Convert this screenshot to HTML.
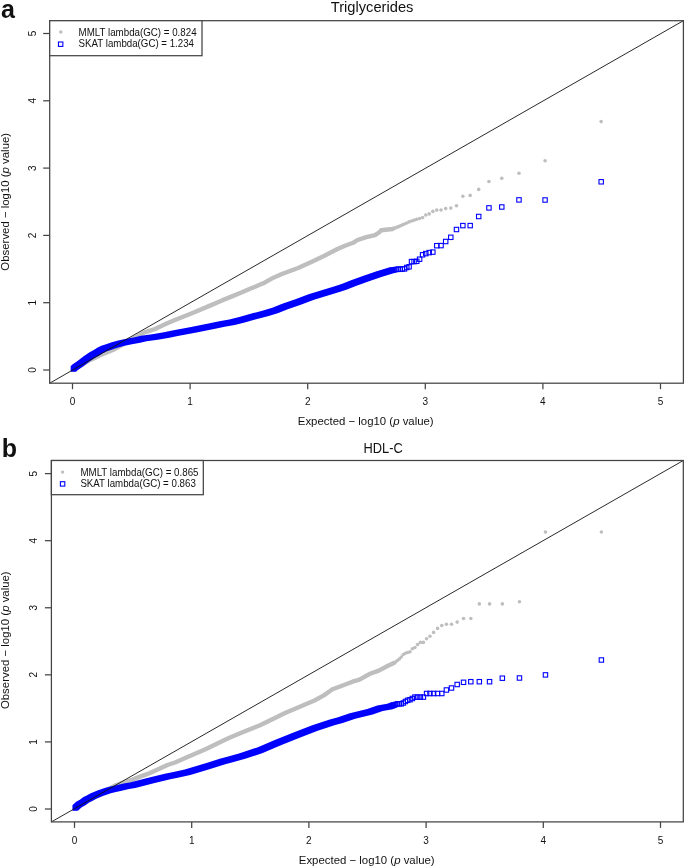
<!DOCTYPE html>
<html><head><meta charset="utf-8"><style>
html,body{margin:0;padding:0;background:#fff;}
svg{display:block;}
svg{will-change:transform;}
text{font-family:"Liberation Sans", sans-serif;fill:#111;}
</style></head><body>
<svg width="685" height="868" viewBox="0 0 685 868">
<polyline points="73,369.8 89.4,360.3 95.2,357.7 100,355.3 107.3,352.3 114.6,349.2 129,341 143.8,332.7 150,330.6 155,329 166.7,323.6 175,320 192.5,313 210,305.6 222,300.4 232,296.4 242,292.3 250,288.7 255,286.7 265,282.4 273.4,277.7 282.5,273.8 290,271 298.1,268 311.3,262 324.4,255.8 337.5,249 345,245.7 353.1,242.8 357.5,240 366.3,237.1 375,235.1 379,232.5 381.2,230.3 392.5,229 392.92,228.83" fill="none" stroke="#bebebe" stroke-width="4.4" stroke-linejoin="round" stroke-linecap="round"/>
<g fill="#bebebe"><circle cx="601.18" cy="121.6" r="1.8"/><circle cx="545.07" cy="160.8" r="1.8"/><circle cx="518.98" cy="173.3" r="1.8"/><circle cx="501.79" cy="178.3" r="1.8"/><circle cx="488.96" cy="181.5" r="1.8"/><circle cx="478.71" cy="189.4" r="1.8"/><circle cx="470.18" cy="195.4" r="1.8"/><circle cx="462.87" cy="196.3" r="1.8"/><circle cx="456.48" cy="205.8" r="1.8"/><circle cx="450.79" cy="208.1" r="1.8"/><circle cx="445.68" cy="208.6" r="1.8"/><circle cx="441.04" cy="210" r="1.8"/><circle cx="436.78" cy="210.1" r="1.8"/><circle cx="432.85" cy="211.4" r="1.8"/><circle cx="429.2" cy="213.9" r="1.8"/><circle cx="425.79" cy="215" r="1.8"/><circle cx="422.6" cy="217.6" r="1.8"/><circle cx="419.59" cy="218.47" r="1.8"/><circle cx="416.76" cy="219.28" r="1.8"/><circle cx="414.07" cy="220.14" r="1.8"/><circle cx="411.51" cy="221" r="1.8"/><circle cx="409.08" cy="221.91" r="1.8"/><circle cx="406.76" cy="222.96" r="1.8"/><circle cx="404.54" cy="223.96" r="1.8"/><circle cx="402.41" cy="224.92" r="1.8"/><circle cx="400.37" cy="225.84" r="1.8"/><circle cx="398.4" cy="226.64" r="1.8"/><circle cx="396.51" cy="227.4" r="1.8"/><circle cx="394.69" cy="228.13" r="1.8"/><circle cx="392.92" cy="228.83" r="1.8"/></g>
<polygon points="70.65,371.75 70.65,366.25 72.05,364.65 74.95,362.85 77.85,360.65 80.75,358.45 83.65,356.15 86.65,354.25 89.55,352.35 92.45,350.65 95.35,349.05 97.25,347.75 101.25,345.85 106.05,344.25 111.85,342.35 119.15,340.25 126.45,338.75 134.75,337.25 141.05,335.85 152.25,334.25 163.95,332.25 172.25,330.45 189.75,327.25 207.25,323.85 219.25,321.15 229.25,319.45 239.25,317.05 250.65,313.75 262.25,310.75 272.25,307.75 282.25,303.75 295.35,299.25 308.55,294.35 321.65,290.25 334.75,286.25 342.25,283.75 350.35,280.55 363.55,275.75 376.65,271.15 389.75,267.35 390.17,267.28 395.67,267.28 395.67,272.78 395.25,272.85 382.15,276.65 369.05,281.25 355.85,286.05 347.75,289.25 340.25,291.75 327.15,295.75 314.05,299.85 300.85,304.75 287.75,309.25 277.75,313.25 267.75,316.25 256.15,319.25 244.75,322.55 234.75,324.95 224.75,326.65 212.75,329.35 195.25,332.75 177.75,335.95 169.45,337.75 157.75,339.75 146.55,341.35 140.25,342.75 131.95,344.25 124.65,345.75 117.35,347.85 111.55,349.75 106.75,351.35 102.75,353.25 100.85,354.55 97.95,356.15 95.05,357.85 92.15,359.75 89.15,361.65 86.25,363.95 83.35,366.15 80.45,368.35 77.55,370.15 76.15,371.75" fill="#0000ff"/>
<g fill="none" stroke="#0000ff" stroke-width="1.1"><rect x="598.98" y="179.6" width="4.4" height="4.4"/><rect x="542.87" y="197.8" width="4.4" height="4.4"/><rect x="516.78" y="197.7" width="4.4" height="4.4"/><rect x="499.59" y="204.8" width="4.4" height="4.4"/><rect x="486.76" y="205.7" width="4.4" height="4.4"/><rect x="476.51" y="214.3" width="4.4" height="4.4"/><rect x="467.98" y="223.4" width="4.4" height="4.4"/><rect x="460.67" y="223.4" width="4.4" height="4.4"/><rect x="454.28" y="227.3" width="4.4" height="4.4"/><rect x="448.59" y="235.1" width="4.4" height="4.4"/><rect x="443.48" y="239.3" width="4.4" height="4.4"/><rect x="438.84" y="243.4" width="4.4" height="4.4"/><rect x="434.58" y="243.5" width="4.4" height="4.4"/><rect x="430.65" y="249.9" width="4.4" height="4.4"/><rect x="427" y="250.4" width="4.4" height="4.4"/><rect x="423.59" y="251.4" width="4.4" height="4.4"/><rect x="420.4" y="252.6" width="4.4" height="4.4"/><rect x="417.39" y="257" width="4.4" height="4.4"/><rect x="414.56" y="259.1" width="4.4" height="4.4"/><rect x="411.87" y="259.4" width="4.4" height="4.4"/><rect x="409.31" y="259.4" width="4.4" height="4.4"/><rect x="406.88" y="264.6" width="4.4" height="4.4"/><rect x="404.56" y="265.3" width="4.4" height="4.4"/><rect x="402.34" y="266.7" width="4.4" height="4.4"/><rect x="400.21" y="266.7" width="4.4" height="4.4"/><rect x="398.17" y="267.1" width="4.4" height="4.4"/><rect x="396.2" y="266.88" width="4.4" height="4.4"/><rect x="394.31" y="267.21" width="4.4" height="4.4"/><rect x="392.49" y="267.52" width="4.4" height="4.4"/><rect x="390.72" y="267.83" width="4.4" height="4.4"/></g>
<line x1="49.7" y1="383.2" x2="683.4" y2="20.7" stroke="#111" stroke-width="0.9"/>
<rect x="49.7" y="20.7" width="633.7" height="362.5" stroke="#444" stroke-width="1.25" fill="none"/>
<line x1="72.5" y1="383.2" x2="72.5" y2="389.2" stroke="#444" stroke-width="1.25" fill="none"/>
<text x="72.5" y="404.7" text-anchor="middle" font-size="10">0</text>
<line x1="190.1" y1="383.2" x2="190.1" y2="389.2" stroke="#444" stroke-width="1.25" fill="none"/>
<text x="190.1" y="404.7" text-anchor="middle" font-size="10">1</text>
<line x1="307.7" y1="383.2" x2="307.7" y2="389.2" stroke="#444" stroke-width="1.25" fill="none"/>
<text x="307.7" y="404.7" text-anchor="middle" font-size="10">2</text>
<line x1="425.3" y1="383.2" x2="425.3" y2="389.2" stroke="#444" stroke-width="1.25" fill="none"/>
<text x="425.3" y="404.7" text-anchor="middle" font-size="10">3</text>
<line x1="542.9" y1="383.2" x2="542.9" y2="389.2" stroke="#444" stroke-width="1.25" fill="none"/>
<text x="542.9" y="404.7" text-anchor="middle" font-size="10">4</text>
<line x1="660.5" y1="383.2" x2="660.5" y2="389.2" stroke="#444" stroke-width="1.25" fill="none"/>
<text x="660.5" y="404.7" text-anchor="middle" font-size="10">5</text>
<line x1="43.2" y1="370" x2="49.7" y2="370" stroke="#444" stroke-width="1.25" fill="none"/>
<text transform="translate(35.7,370) rotate(-90)" text-anchor="middle" font-size="10">0</text>
<line x1="43.2" y1="302.7" x2="49.7" y2="302.7" stroke="#444" stroke-width="1.25" fill="none"/>
<text transform="translate(35.7,302.7) rotate(-90)" text-anchor="middle" font-size="10">1</text>
<line x1="43.2" y1="235.4" x2="49.7" y2="235.4" stroke="#444" stroke-width="1.25" fill="none"/>
<text transform="translate(35.7,235.4) rotate(-90)" text-anchor="middle" font-size="10">2</text>
<line x1="43.2" y1="168.1" x2="49.7" y2="168.1" stroke="#444" stroke-width="1.25" fill="none"/>
<text transform="translate(35.7,168.1) rotate(-90)" text-anchor="middle" font-size="10">3</text>
<line x1="43.2" y1="100.8" x2="49.7" y2="100.8" stroke="#444" stroke-width="1.25" fill="none"/>
<text transform="translate(35.7,100.8) rotate(-90)" text-anchor="middle" font-size="10">4</text>
<line x1="43.2" y1="33.5" x2="49.7" y2="33.5" stroke="#444" stroke-width="1.25" fill="none"/>
<text transform="translate(35.7,33.5) rotate(-90)" text-anchor="middle" font-size="10">5</text>
<text x="365.75" y="425.3" text-anchor="middle" font-size="11.4">Expected − log10 (<tspan font-style="italic">p</tspan> value)</text>
<text transform="translate(9.4,201.75) rotate(-90)" text-anchor="middle" font-size="11.4">Observed − log10 (<tspan font-style="italic">p</tspan> value)</text>
<text x="330.8" y="12" font-size="14.5" textLength="82.6" lengthAdjust="spacingAndGlyphs" fill="#333">Triglycerides</text>
<text x="1" y="18" font-size="25" font-weight="bold">a</text>
<rect x="49.7" y="20.7" width="152.3" height="35" fill="#fff" stroke="#444" stroke-width="1.25" />
<circle cx="60.8" cy="32.05" r="1.7" fill="#bebebe"/>
<rect x="58.45" y="42" width="4.4" height="4.4" fill="none" stroke="#0000ff" stroke-width="1.1"/>
<text x="78.6" y="35.8" font-size="10.4" textLength="118" lengthAdjust="spacingAndGlyphs">MMLT lambda(GC) = 0.824</text>
<text x="78.6" y="47.4" font-size="10.4" textLength="115.4" lengthAdjust="spacingAndGlyphs">SKAT lambda(GC) = 1.234</text>
<polyline points="75,808.6 90,799.8 105,791.2 115,785.6 125,782 132.5,779.6 139.4,776.9 145,774.9 150,773 167.5,765 175,762.5 187.5,757 205,749.5 222.5,741 230,737.5 242.5,732.2 260,725.2 277.5,716.7 285,713 297.5,707.7 315,700.2 323.8,695.4 332.5,689.3 340,686.5 352.5,681.7 359.5,679.6 370,673.8 378.8,670.6 387.5,666 393.83,663.04" fill="none" stroke="#bebebe" stroke-width="4.4" stroke-linejoin="round" stroke-linecap="round"/>
<g fill="#bebebe"><circle cx="601.38" cy="532" r="1.8"/><circle cx="545.46" cy="532" r="1.8"/><circle cx="519.46" cy="601.7" r="1.8"/><circle cx="502.33" cy="603.9" r="1.8"/><circle cx="489.54" cy="603.9" r="1.8"/><circle cx="479.33" cy="603.9" r="1.8"/><circle cx="470.82" cy="618.5" r="1.8"/><circle cx="463.54" cy="618.5" r="1.8"/><circle cx="457.17" cy="622.1" r="1.8"/><circle cx="451.51" cy="624.3" r="1.8"/><circle cx="446.41" cy="624.3" r="1.8"/><circle cx="441.78" cy="625.5" r="1.8"/><circle cx="437.54" cy="628.4" r="1.8"/><circle cx="433.62" cy="632.4" r="1.8"/><circle cx="429.98" cy="636.3" r="1.8"/><circle cx="426.59" cy="638.7" r="1.8"/><circle cx="423.41" cy="642.4" r="1.8"/><circle cx="420.41" cy="642.4" r="1.8"/><circle cx="417.58" cy="644.6" r="1.8"/><circle cx="414.91" cy="647.5" r="1.8"/><circle cx="412.36" cy="648.7" r="1.8"/><circle cx="409.94" cy="651.86" r="1.8"/><circle cx="407.62" cy="652.5" r="1.8"/><circle cx="405.41" cy="653.24" r="1.8"/><circle cx="403.29" cy="654.54" r="1.8"/><circle cx="401.25" cy="657.07" r="1.8"/><circle cx="399.29" cy="659.04" r="1.8"/><circle cx="397.41" cy="660.56" r="1.8"/><circle cx="395.59" cy="662.02" r="1.8"/><circle cx="393.83" cy="663.04" r="1.8"/></g>
<polygon points="72.45,810.65 72.45,805.15 76.15,801.65 79.85,799.65 83.45,797.05 87.15,795.15 90.75,793.25 94.45,791.65 98.05,790.25 101.75,789.05 105.35,787.75 110.35,786.45 115.25,785.55 123.55,783.55 129.75,782.55 136.65,780.85 147.25,777.95 164.75,773.85 172.25,772.25 184.75,769.55 202.25,764.35 219.75,758.75 227.25,756.85 239.75,753.35 257.25,747.45 274.75,739.95 282.25,736.95 294.75,732.05 312.25,725.25 329.75,719.55 337.25,717.55 349.75,713.15 367.25,708.95 377.25,705.45 387.25,703.75 391.08,702.37 396.58,702.37 396.58,707.87 392.75,709.25 382.75,710.95 372.75,714.45 355.25,718.65 342.75,723.05 335.25,725.05 317.75,730.75 300.25,737.55 287.75,742.45 280.25,745.45 262.75,752.95 245.25,758.85 232.75,762.35 225.25,764.25 207.75,769.85 190.25,775.05 177.75,777.75 170.25,779.35 152.75,783.45 142.15,786.35 135.25,788.05 129.05,789.05 120.75,791.05 115.85,791.95 110.85,793.25 107.25,794.55 103.55,795.75 99.95,797.15 96.25,798.75 92.65,800.65 88.95,802.55 85.35,805.15 81.65,807.15 77.95,810.65" fill="#0000ff"/>
<g fill="none" stroke="#0000ff" stroke-width="1.1"><rect x="599.18" y="657.8" width="4.4" height="4.4"/><rect x="543.26" y="672.7" width="4.4" height="4.4"/><rect x="517.26" y="675.8" width="4.4" height="4.4"/><rect x="500.13" y="676" width="4.4" height="4.4"/><rect x="487.34" y="679.5" width="4.4" height="4.4"/><rect x="477.13" y="679.5" width="4.4" height="4.4"/><rect x="468.62" y="679.5" width="4.4" height="4.4"/><rect x="461.34" y="680.1" width="4.4" height="4.4"/><rect x="454.97" y="682.3" width="4.4" height="4.4"/><rect x="449.31" y="685.8" width="4.4" height="4.4"/><rect x="444.21" y="687.8" width="4.4" height="4.4"/><rect x="439.58" y="691.3" width="4.4" height="4.4"/><rect x="435.34" y="691.3" width="4.4" height="4.4"/><rect x="431.42" y="691.3" width="4.4" height="4.4"/><rect x="427.78" y="691.3" width="4.4" height="4.4"/><rect x="424.39" y="691.3" width="4.4" height="4.4"/><rect x="421.21" y="694.9" width="4.4" height="4.4"/><rect x="418.21" y="694.9" width="4.4" height="4.4"/><rect x="415.38" y="694.9" width="4.4" height="4.4"/><rect x="412.71" y="694.9" width="4.4" height="4.4"/><rect x="410.16" y="696.3" width="4.4" height="4.4"/><rect x="407.74" y="697.5" width="4.4" height="4.4"/><rect x="405.42" y="698.1" width="4.4" height="4.4"/><rect x="403.21" y="699.3" width="4.4" height="4.4"/><rect x="401.09" y="700.8" width="4.4" height="4.4"/><rect x="399.05" y="701.6" width="4.4" height="4.4"/><rect x="397.09" y="701.6" width="4.4" height="4.4"/><rect x="395.21" y="701.63" width="4.4" height="4.4"/><rect x="393.39" y="702.29" width="4.4" height="4.4"/><rect x="391.63" y="702.92" width="4.4" height="4.4"/></g>
<line x1="51.4" y1="821.9" x2="683.3" y2="460.5" stroke="#111" stroke-width="0.9"/>
<rect x="51.4" y="460.5" width="631.9" height="361.4" stroke="#444" stroke-width="1.25" fill="none"/>
<line x1="74.5" y1="821.9" x2="74.5" y2="827.9" stroke="#444" stroke-width="1.25" fill="none"/>
<text x="74.5" y="843.8" text-anchor="middle" font-size="10">0</text>
<line x1="191.7" y1="821.9" x2="191.7" y2="827.9" stroke="#444" stroke-width="1.25" fill="none"/>
<text x="191.7" y="843.8" text-anchor="middle" font-size="10">1</text>
<line x1="308.9" y1="821.9" x2="308.9" y2="827.9" stroke="#444" stroke-width="1.25" fill="none"/>
<text x="308.9" y="843.8" text-anchor="middle" font-size="10">2</text>
<line x1="426.1" y1="821.9" x2="426.1" y2="827.9" stroke="#444" stroke-width="1.25" fill="none"/>
<text x="426.1" y="843.8" text-anchor="middle" font-size="10">3</text>
<line x1="543.3" y1="821.9" x2="543.3" y2="827.9" stroke="#444" stroke-width="1.25" fill="none"/>
<text x="543.3" y="843.8" text-anchor="middle" font-size="10">4</text>
<line x1="660.5" y1="821.9" x2="660.5" y2="827.9" stroke="#444" stroke-width="1.25" fill="none"/>
<text x="660.5" y="843.8" text-anchor="middle" font-size="10">5</text>
<line x1="44.9" y1="809" x2="51.4" y2="809" stroke="#444" stroke-width="1.25" fill="none"/>
<text transform="translate(37.4,809) rotate(-90)" text-anchor="middle" font-size="10">0</text>
<line x1="44.9" y1="741.92" x2="51.4" y2="741.92" stroke="#444" stroke-width="1.25" fill="none"/>
<text transform="translate(37.4,741.92) rotate(-90)" text-anchor="middle" font-size="10">1</text>
<line x1="44.9" y1="674.84" x2="51.4" y2="674.84" stroke="#444" stroke-width="1.25" fill="none"/>
<text transform="translate(37.4,674.84) rotate(-90)" text-anchor="middle" font-size="10">2</text>
<line x1="44.9" y1="607.76" x2="51.4" y2="607.76" stroke="#444" stroke-width="1.25" fill="none"/>
<text transform="translate(37.4,607.76) rotate(-90)" text-anchor="middle" font-size="10">3</text>
<line x1="44.9" y1="540.68" x2="51.4" y2="540.68" stroke="#444" stroke-width="1.25" fill="none"/>
<text transform="translate(37.4,540.68) rotate(-90)" text-anchor="middle" font-size="10">4</text>
<line x1="44.9" y1="473.6" x2="51.4" y2="473.6" stroke="#444" stroke-width="1.25" fill="none"/>
<text transform="translate(37.4,473.6) rotate(-90)" text-anchor="middle" font-size="10">5</text>
<text x="366.75" y="864.4" text-anchor="middle" font-size="11.4">Expected − log10 (<tspan font-style="italic">p</tspan> value)</text>
<text transform="translate(9.4,640.2) rotate(-90)" text-anchor="middle" font-size="11.4">Observed − log10 (<tspan font-style="italic">p</tspan> value)</text>
<text x="363.6" y="453.2" font-size="14.5" textLength="39.2" lengthAdjust="spacingAndGlyphs" fill="#333">HDL-C</text>
<text x="1.85" y="456.7" font-size="25" font-weight="bold">b</text>
<rect x="51.4" y="460.5" width="151.9" height="34.2" fill="#fff" stroke="#444" stroke-width="1.25" />
<circle cx="62.6" cy="472.1" r="1.7" fill="#bebebe"/>
<rect x="60.4" y="481.7" width="4.4" height="4.4" fill="none" stroke="#0000ff" stroke-width="1.1"/>
<text x="80.4" y="475.6" font-size="10.4" textLength="118.1" lengthAdjust="spacingAndGlyphs">MMLT lambda(GC) = 0.865</text>
<text x="80.4" y="487.2" font-size="10.4" textLength="115.4" lengthAdjust="spacingAndGlyphs">SKAT lambda(GC) = 0.863</text>
</svg>
</body></html>
